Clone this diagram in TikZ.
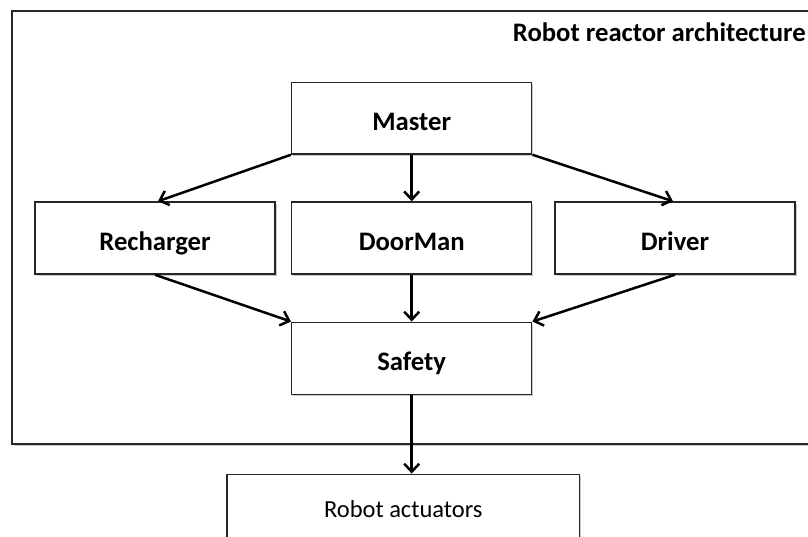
\documentclass[tikz,border=0pt]{standalone}
\usepackage{fontspec}
\setmainfont{Carlito}
\usetikzlibrary{arrows.meta,shadows}
\tikzset{
  box/.style={draw=black!85, line width=1.5pt, fill=white, minimum width=240pt, minimum height=72pt,
    inner sep=0pt, text height=24pt, text depth=0pt, font=\fontsize{26.7}{31}\selectfont\bfseries,
    drop shadow={shadow xshift=1.5pt, shadow yshift=-1.5pt, opacity=0.35, fill=black!60}},
  plainbox/.style={box, text height=16pt, font=\fontsize{24.5}{29}\selectfont},
  conn/.style={draw=black, line width=2.5pt, -{Straight Barb[length=8pt, width=15pt, line width=2.5pt]}},
  frame/.style={draw=black!85, line width=2pt, fill=white,
    drop shadow={shadow xshift=2pt, shadow yshift=-2pt, opacity=0.35, fill=black!60}}
}
\begin{document}
\begin{tikzpicture}[x=1pt,y=-1pt]
\useasboundingbox (0,0) rectangle (808,536);
\clip (0,0) rectangle (808,536);
\fill[white] (0,0) rectangle (808,536);
% outer frame
\node[frame, minimum width=809pt, minimum height=432.7pt, inner sep=0pt, anchor=north west] (outer) at (11,10) {};
\node[anchor=base east, inner sep=0pt, font=\fontsize{26.7}{31}\selectfont\bfseries] (title) at (806,41.7) {Robot reactor architecture};
% boxes
\node[box, minimum height=71.3pt] (master) at (411.7,118.35) {Master};
\node[box] (recharger) at (155,238) {Recharger};
\node[box] (doorman) at (411.7,238) {DoorMan};
\node[box] (driver) at (675,238) {Driver};
\node[box] (safety) at (411.7,358.3) {Safety};
\node[plainbox, minimum width=352.5pt, minimum height=71pt] (act) at (403.3,509.8) {Robot actuators};
% connectors
\draw[conn] (master.south west) -- ([xshift=3pt]recharger.north);
\draw[conn] (master.south) -- (doorman.north);
\draw[conn] (master.south east) -- ([xshift=-2pt]driver.north);
\draw[conn] (recharger.south) -- (safety.north west);
\draw[conn] (doorman.south) -- (safety.north);
\draw[conn] (driver.south) -- (safety.north east);
\draw[conn] (safety.south) -- (safety.south |- act.north);
\end{tikzpicture}
\end{document}
